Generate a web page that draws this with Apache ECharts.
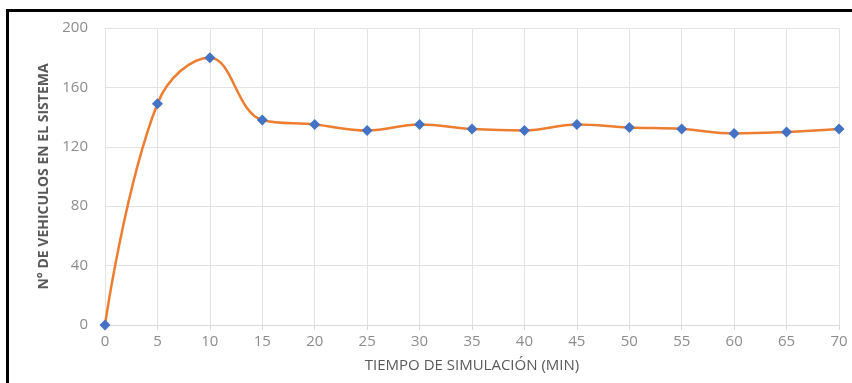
<!DOCTYPE html>
<html>
<head>
<meta charset="utf-8">
<script src="https://cdn.jsdelivr.net/npm/echarts@6/dist/echarts.min.js"></script>
<style>
body{margin:0;background:#fff;}
#frame{position:absolute;left:6px;top:9px;width:860px;height:390px;border-left:3px solid #000;border-top:3px solid #000;}
#chart{position:absolute;left:0;top:0;width:852px;height:383px;}
</style>
</head>
<body>
<div id="frame"></div>
<div id="chart"></div>
<script>
// tiempo de simulacion (min)
var tiempo = [0,5,10,15,20,25,30,35,40,45,50,55,60,65,70];
// n de vehiculos en el sistema
var vehiculos = [0,149,180,138,135,131,135,132,131,135,133,132,129,130,132];

var puntos = [];
for(var i=0;i<tiempo.length;i++){
	puntos.push([tiempo[i],vehiculos[i]]);
}

var chart = echarts.init(document.getElementById("chart"));
var option = {
	animation:false,
	grid:{left:105,right:13,top:28,bottom:58},
	xAxis:{
		type:"value",min:0,max:70,interval:5,
		name:"TIEMPO DE SIMULACIÓN (MIN)",
		nameLocation:"middle",nameGap:33,
		nameTextStyle:{color:"#595959",fontSize:15,fontFamily:"Open Sans"},
		axisLine:{show:true,lineStyle:{color:"#d9d9d9"}},
		axisTick:{show:true,length:5,lineStyle:{color:"#d9d9d9"}},
		axisLabel:{color:"#8c8c8c",fontSize:15,fontFamily:"Open Sans",margin:9},
		splitLine:{show:true,lineStyle:{color:"#e3e3e3"}}
	},
	yAxis:{
		type:"value",min:0,max:200,interval:40,
		name:"N° DE VEHICULOS EN EL SISTEMA",
		nameLocation:"middle",nameGap:52,
		nameTextStyle:{color:"#595959",fontSize:14,fontFamily:"Open Sans",fontWeight:"bold"},
		axisLine:{show:false},
		axisTick:{show:false},
		axisLabel:{color:"#8c8c8c",fontSize:15,fontFamily:"Open Sans",margin:17},
		splitLine:{show:true,lineStyle:{color:"#e3e3e3"}}
	},
	series:[{
		type:"line",
		data:puntos,
		smooth:0.4,
		symbol:"diamond",
		symbolSize:11,
		lineStyle:{color:"#ED7D31",width:2.5},
		itemStyle:{color:"#4472C4"}
	}]
};
chart.setOption(option);
</script>
</body>
</html>
